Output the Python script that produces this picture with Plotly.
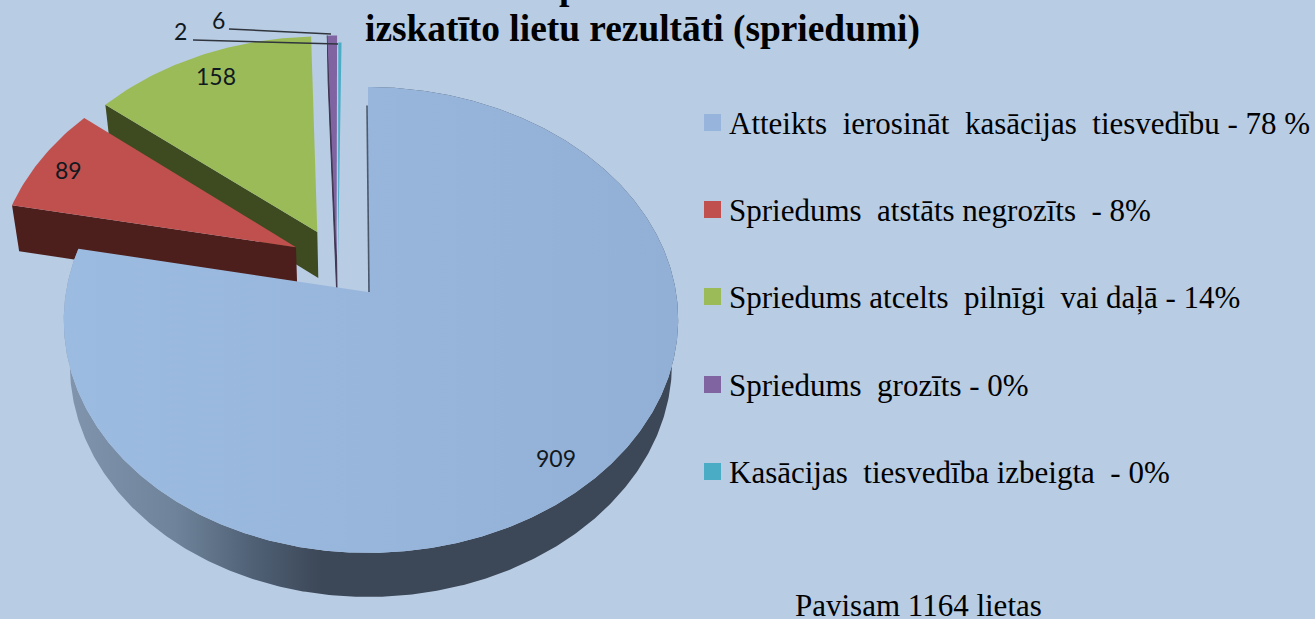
import math
import plotly.graph_objects as go

# --- data -------------------------------------------------------------
categories = ["Atteikts ierosināt kasācijas tiesvedību", "Spriedums atstāts negrozīts",
              "Spriedums atcelts pilnīgi vai daļā", "Spriedums grozīts", "Kasācijas tiesvedība izbeigta"]
values = [909, 89, 158, 6, 2]
legend_labels = ["Atteikts\u00a0 ierosināt\u00a0 kasācijas\u00a0 tiesvedību - 78 %",
                 "Spriedums\u00a0 atstāts negrozīts\u00a0 - 8%",
                 "Spriedums atcelts\u00a0 pilnīgi\u00a0 vai daļā - 14%",
                 "Spriedums\u00a0 grozīts - 0%",
                 "Kasācijas\u00a0 tiesvedība izbeigta\u00a0 - 0%"]
total_label = "Pavisam 1164 lietas"
title_line = "izskatīto lietu rezultāti (spriedumi)"

# --- style / geometry -------------------------------------------------
BG = "#b8cce4"
top_colors = ["#97b5dc", "#c0504d", "#9bbb59", "#8064a2", "#4bacc6"]
wall_colors = ["#3c4757", "#4d1f1c", "#3e4a20", "#3f3550", "#2c6473"]
explode = [(0, 0), (-0.2425, 0.20), (-0.172, 0.27), (-0.105, 0.15), (-0.10, 0.13)]
radius = [1, 1.015, 1.015, 1.14, 1.12]
label_r = [0.875, 0.9, 0.9]
label_shift = [(3, -3), (-1, 2), (4, 2)]
X0, Y0, B, A, K = 368, 292, 305, 229.6, 0.12
DEPTH, DEPTH_MAIN, SHRINK = 46, 44, 0.98


def project(u, v):
    w = 1 + K * v
    return X0 + B * u / w + 3 * u * u, Y0 - A * v / w


def point(t_deg, r, d):
    t = math.radians(t_deg)
    return project(r * math.sin(t) + d[0], r * math.cos(t) + d[1])


def lower(p, depth=DEPTH):
    return X0 + (p[0] - X0) * SHRINK, p[1] + depth


def arc(a, b, d, r=1, n=120):
    n = max(2, int(abs(b - a) / 360 * n * 3))
    return [point(a + (b - a) * i / n, r, d) for i in range(n + 1)]


def poly(pts, color=None, gradient=None, edge=0):
    xs = [p[0] for p in pts] + [pts[0][0]]
    ys = [p[1] for p in pts] + [pts[0][1]]
    kw = {"fillgradient": gradient} if gradient else {"fillcolor": color}
    return go.Scatter(x=xs, y=ys, mode="lines", fill="toself",
                      line=dict(width=edge, color=color),
                      hoverinfo="skip", showlegend=False, **kw)


total = sum(values)
angles = []
a = 0.0
for val in values:
    angles.append((a, a + val / total * 360))
    a += val / total * 360

fig = go.Figure()
# back-to-front order: cyan, purple, green, red, blue
for i in [4, 3, 2, 1]:
    s, e = angles[i]
    d = explode[i]
    apex = point(0, 0, d)
    o = point(s, radius[i], d)
    # radial cut face on the leading edge
    fig.add_trace(poly([o, apex, lower(apex), lower(o)], wall_colors[i], edge=1 if i == 3 else 0))
    fig.add_trace(poly([apex] + arc(s, e, d, radius[i]), top_colors[i]))

# main slice: wall then top
s, e = angles[0]
d = explode[0]
ring = arc(s, e, d, 1, 240)
wall_scale = [[0, "#8196ae"], [0.18, "#6f849b"], [0.31, "#4f6075"], [0.42, "#3c4757"], [1, "#3c4757"]]
fig.add_trace(poly(ring + [lower(p, DEPTH_MAIN) for p in reversed(ring)],
                   gradient=dict(type="horizontal", colorscale=wall_scale)))
fig.add_trace(poly([point(0, 0, d)] + ring,
                   gradient=dict(type="horizontal",
                                 colorscale=[[0, "#9cbbe1"], [0.5, "#98b6dc"], [1, "#92b0d6"]])))
# thin dark edge of the main slice's cut face
p0 = point(0, 0.9, d)
p1 = point(0, 0, d)
fig.add_trace(go.Scatter(x=[p0[0] - 1, p1[0] + 1], y=[p0[1], p1[1]], mode="lines",
                         line=dict(color="rgba(60,71,87,0.85)", width=1.6),
                         hoverinfo="skip", showlegend=False))

# leader lines for the two tiny slices
leaders = [((229, 29), (331, 34)), ((193, 40), (338, 44))]
for p, q in leaders:
    fig.add_trace(go.Scatter(x=[p[0], q[0]], y=[p[1], q[1]], mode="lines",
                             line=dict(color="#30353d", width=1.4),
                             hoverinfo="skip", showlegend=False))

ann = []


def text(x, y, s, size, family, color="#000000", anchor="left", yanchor="middle", bold=False):
    ann.append(dict(x=x, y=y, xref="x", yref="y", text=f"<b>{s}</b>" if bold else s, showarrow=False,
                    xanchor=anchor, yanchor=yanchor, font=dict(size=size, family=family, color=color)))


# value labels
for i in range(3):
    s, e = angles[i]
    px, py = point((s + e) / 2, label_r[i], explode[i])
    text(px + label_shift[i][0], py + label_shift[i][1], str(values[i]), 23, "Lato", "#101820", "center")
text(218, 20, str(values[3]), 23, "Lato", "#101820", "center")
text(180, 31, str(values[4]), 23, "Lato", "#101820", "center")

# legend
SERIF = "Liberation Serif"
legend_y = [123, 210, 297, 385, 472]
for lab, ly, col in zip(legend_labels, legend_y, top_colors):
    text(727, ly, lab, 31, SERIF)
    fig.add_shape(type="rect", x0=704, x1=721, y0=ly - 9, y1=ly + 8, fillcolor=col, line_width=0, layer="above")
text(918, 605, total_label, 31, SERIF, anchor="center")

# title
text(642, 29, title_line, 37.4, SERIF, anchor="center", bold=True)
text(569, 9, "p", 37.4, SERIF, anchor="center", yanchor="bottom", bold=True)

fig.update_layout(
    width=1315, height=619, margin=dict(l=0, r=0, t=0, b=0),
    paper_bgcolor=BG, plot_bgcolor=BG, showlegend=False, annotations=ann,
    xaxis=dict(range=[0, 1315], visible=False, fixedrange=True),
    yaxis=dict(range=[619, 0], visible=False, fixedrange=True),
)
fig.write_html("out.html", config={"displayModeBar": False},
               post_script="document.body.style.margin='0';document.body.style.background='#b8cce4';")
